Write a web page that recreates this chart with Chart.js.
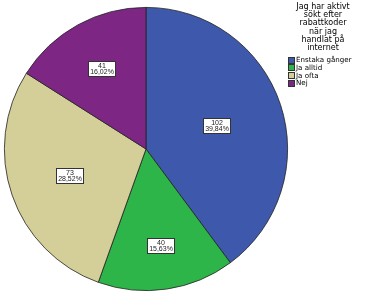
<!DOCTYPE html>
<html>
<head>
<meta charset="utf-8">
<script src="https://cdn.jsdelivr.net/npm/chart.js@4.4.0/dist/chart.umd.min.js"></script>
<style>
  html, body { margin: 0; padding: 0; background: #ffffff; }
  #wrap { position: relative; width: 367px; height: 302px; overflow: hidden; }
  #c { position: absolute; left: 0; top: 0; }
  #legend { position: absolute; left: 283px; top: 3px; width: 80px; font-family: "DejaVu Sans", sans-serif; color: #000; }
  #legend .title { text-align: center; font-size: 8px; line-height: 8.2px; }
  #legend .items { margin-top: 4px; margin-left: 5px; }
  #legend .item { display: flex; align-items: center; font-size: 7.1px; line-height: 7.7px; white-space: nowrap; }
  #legend .sw { width: 5px; height: 5px; border: 0.8px solid #333; margin-right: 1px; flex: none; }
</style>
</head>
<body>
<div id="wrap">
  <canvas id="c" width="367" height="302"></canvas>
  <div id="legend"></div>
</div>
<script>
// ---- data ----
const legendTitle = ["Jag har aktivt", "sökt efter", "rabattkoder", "när jag", "handlat på", "internet"];
const categories = ["Enstaka gånger", "Ja alltid", "Ja ofta", "Nej"];
const counts = [102, 40, 73, 41];
const colors = ["#3E58AC", "#2DB54A", "#D4CF98", "#7D2684"];

// label placement (fraction of radius) per slice - style only
const labelRadiusFrac = [0.52, 0.69, 0.57, 0.65];

const total = counts.reduce((a, b) => a + b, 0);
const pctText = v => (v / total * 100).toFixed(2).replace('.', ',') + '%';

// legend (real text)
const lg = document.getElementById('legend');
const t = document.createElement('div');
t.className = 'title';
t.innerHTML = legendTitle.join('<br>');
lg.appendChild(t);
const items = document.createElement('div');
items.className = 'items';
categories.forEach((c, i) => {
  const it = document.createElement('div');
  it.className = 'item';
  const sw = document.createElement('span');
  sw.className = 'sw';
  sw.style.background = colors[i];
  it.appendChild(sw);
  const tx = document.createElement('span');
  tx.textContent = c;
  it.appendChild(tx);
  items.appendChild(it);
});
lg.appendChild(items);

const labelPlugin = {
  id: 'boxLabels',
  afterDatasetsDraw(chart) {
    const ctx = chart.ctx;
    const meta = chart.getDatasetMeta(0);
    ctx.save();
    ctx.font = '7px "Liberation Sans", sans-serif';
    ctx.textAlign = 'center';
    ctx.textBaseline = 'middle';
    meta.data.forEach((arc, i) => {
      const p = arc.getProps(['x', 'y', 'startAngle', 'endAngle', 'outerRadius'], true);
      const mid = (p.startAngle + p.endAngle) / 2;
      const r = p.outerRadius * labelRadiusFrac[i];
      const cx = p.x + Math.cos(mid) * r;
      const cy = p.y + Math.sin(mid) * r;
      const l1 = String(counts[i]);
      const l2 = pctText(counts[i]);
      const w = Math.max(ctx.measureText(l1).width, ctx.measureText(l2).width) + 3;
      const h = 15;
      const x0 = Math.round(cx - w / 2) + 0.5;
      const y0 = Math.round(cy - h / 2) + 0.5;
      ctx.fillStyle = '#ffffff';
      ctx.fillRect(x0, y0, Math.round(w), h);
      ctx.strokeStyle = '#333333';
      ctx.lineWidth = 1;
      ctx.strokeRect(x0, y0, Math.round(w), h);
      ctx.fillStyle = '#222222';
      ctx.fillText(l1, x0 + Math.round(w) / 2, y0 + 4.2);
      ctx.fillText(l2, x0 + Math.round(w) / 2, y0 + 11);
    });
    ctx.restore();
  }
};

new Chart(document.getElementById('c'), {
  type: 'pie',
  data: {
    labels: categories,
    datasets: [{
      data: counts,
      backgroundColor: colors,
      borderColor: '#222222',
      borderWidth: 0.8
    }]
  },
  options: {
    responsive: false,
    animation: false,
    layout: { padding: { left: 4, top: 7, right: 79, bottom: 11 } },
    plugins: {
      legend: { display: false },
      tooltip: { enabled: false },
      title: { display: false }
    }
  },
  plugins: [labelPlugin]
});
</script>
</body>
</html>
